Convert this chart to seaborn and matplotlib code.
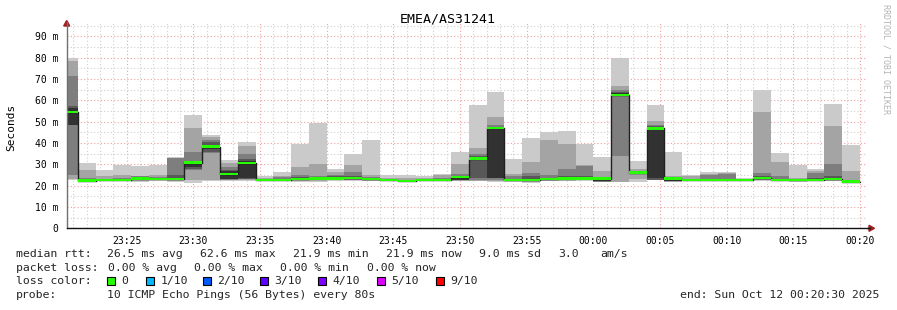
import numpy as np
import pandas as pd
import matplotlib
matplotlib.use("Agg")
import matplotlib.pyplot as plt
from matplotlib.patches import Polygon, Rectangle
from matplotlib.lines import Line2D
from matplotlib.ticker import FixedLocator, MultipleLocator
import seaborn as sns

# ---------------- data ----------------
title = "EMEA/AS31241"
y_label = "Seconds"
watermark = "RRDTOOL / TOBI OETIKER"
axis_start = "2025-10-11 23:20:30"
axis_end = "2025-10-12 00:20:30"
last_bin_end = "2025-10-12 00:20:00"
step_seconds = 80

x_tick_labels = ["23:25", "23:30", "23:35", "23:40", "23:45", "23:50",
                 "23:55", "00:00", "00:05", "00:10", "00:15", "00:20"]
y_tick_values = [0, 10, 20, 30, 40, 50, 60, 70, 80, 90]
y_tick_labels = ["0", "10 m", "20 m", "30 m", "40 m", "50 m", "60 m", "70 m", "80 m", "90 m"]

# median rtt per 80 s bin (ms)
median_ms = [54.6, 22.4, 22.5, 22.8, 23.3, 23.0, 23.1, 30.8, 38.3, 25.6,
             30.6, 22.6, 22.7, 23.1, 23.4, 23.4, 23.6, 23.1, 22.6, 22.1,
             22.5, 22.8, 24.0, 32.7, 47.0, 22.7, 22.8, 23.0, 23.4, 23.4,
             23.3, 62.6, 26.1, 46.8, 23.3, 22.6, 22.7, 22.7, 22.5, 23.5,
             22.8, 22.6, 22.8, 23.0, 21.9]

# sorted ping rtts per bin (ms), rank 1 (fastest) .. rank 10 (slowest)
ping_01 = [22.5, 21.7, 22.0, 22.0, 21.5, 22.3, 21.8, 21.3, 22.0, 22.3,
           22.0, 22.1, 22.0, 21.7, 21.9, 22.2, 22.1, 22.1, 22.0, 21.6,
           22.0, 22.2, 22.2, 22.0, 21.8, 21.6, 21.2, 22.1, 22.0, 22.3,
           21.7, 21.5, 21.6, 22.5, 21.7, 22.0, 22.0, 22.2, 22.1, 22.2,
           22.0, 21.6, 22.0, 22.0, 21.6]
ping_02 = [23.1, 22.0, 22.2, 22.3, 22.3, 22.5, 22.4, 22.6, 22.8, 22.6,
           22.5, 22.2, 22.2, 22.3, 22.3, 22.5, 22.5, 22.4, 22.2, 21.8,
           22.2, 22.4, 22.4, 22.3, 22.2, 22.1, 21.8, 22.4, 22.4, 22.5,
           21.8, 21.6, 23.1, 22.6, 21.9, 22.2, 22.2, 22.3, 22.2, 22.5,
           22.3, 22.0, 22.3, 22.4, 21.7]
ping_03 = [25.2, 22.2, 22.3, 22.5, 22.8, 22.7, 22.8, 27.5, 35.3, 22.8,
           23.0, 22.3, 22.4, 22.6, 22.7, 22.8, 22.8, 22.6, 22.3, 21.9,
           22.3, 22.5, 22.6, 22.8, 22.6, 22.4, 22.2, 22.7, 22.8, 22.7,
           21.9, 34.0, 25.8, 22.7, 22.0, 22.4, 22.4, 22.4, 22.3, 22.8,
           22.5, 22.2, 22.5, 22.6, 21.8]
ping_04 = [48.3, 22.4, 22.4, 22.7, 23.0, 22.9, 23.0, 28.0, 36.0, 23.0,
           23.2, 22.4, 22.5, 22.9, 23.0, 23.0, 23.1, 22.8, 22.4, 22.0,
           22.4, 22.7, 22.7, 23.5, 23.4, 22.6, 22.5, 22.9, 23.1, 22.9,
           22.0, 61.9, 25.9, 22.8, 22.1, 22.5, 22.5, 22.5, 22.4, 23.0,
           22.6, 22.4, 22.6, 22.8, 21.9]
ping_05 = [48.6, 22.6, 22.5, 22.8, 23.2, 23.0, 23.2, 28.8, 37.0, 23.1,
           23.4, 22.5, 22.6, 23.0, 23.2, 23.2, 23.4, 23.0, 22.5, 22.1,
           22.5, 22.8, 22.8, 31.8, 23.6, 22.7, 22.7, 23.0, 23.3, 23.0,
           22.1, 62.3, 26.0, 23.6, 22.2, 22.6, 22.6, 22.6, 22.5, 23.3,
           22.7, 22.5, 22.7, 22.9, 22.0]
ping_06 = [56.5, 22.8, 22.7, 23.0, 23.5, 23.2, 23.8, 31.0, 39.0, 27.0,
           31.5, 22.7, 22.8, 23.3, 23.6, 23.6, 24.0, 23.3, 22.7, 22.3,
           22.6, 22.9, 24.3, 33.0, 46.5, 22.9, 23.0, 23.2, 23.7, 23.8,
           23.5, 63.3, 26.1, 46.5, 23.4, 22.7, 22.8, 22.8, 22.6, 23.7,
           22.9, 22.7, 22.9, 23.1, 22.1]
ping_07 = [57.2, 23.2, 22.9, 23.2, 23.8, 23.5, 25.0, 31.5, 40.3, 27.5,
           32.5, 22.9, 23.1, 24.1, 24.0, 24.4, 24.7, 23.6, 22.9, 22.5,
           22.8, 23.2, 24.7, 34.0, 47.5, 23.3, 24.4, 23.6, 24.7, 24.4,
           23.7, 63.8, 26.3, 48.0, 23.8, 22.9, 23.1, 23.3, 22.7, 24.4,
           23.1, 22.9, 23.6, 24.4, 22.3]
ping_08 = [71.3, 23.6, 23.2, 23.4, 24.4, 24.0, 33.0, 36.0, 41.5, 28.7,
           35.0, 23.2, 23.9, 25.2, 24.4, 25.0, 26.3, 23.9, 23.2, 22.8,
           23.0, 23.6, 25.6, 35.0, 48.6, 24.4, 26.0, 25.2, 28.0, 29.0,
           23.9, 64.7, 26.7, 48.6, 24.1, 23.1, 25.0, 25.5, 22.9, 25.9,
           24.4, 23.2, 26.0, 30.2, 22.8]
ping_09 = [78.3, 27.5, 24.4, 25.2, 24.7, 25.2, 33.1, 46.8, 42.8, 30.6,
           38.7, 23.8, 24.4, 28.6, 30.3, 26.3, 29.5, 25.2, 23.8, 23.5,
           23.6, 25.0, 30.2, 37.8, 52.0, 25.6, 31.3, 41.3, 39.4, 29.8,
           26.7, 66.6, 28.0, 50.2, 24.4, 24.4, 25.6, 25.7, 23.1, 54.7,
           31.3, 23.6, 27.0, 48.1, 26.7]
ping_10 = [79.7, 30.6, 27.5, 29.5, 29.0, 29.8, 33.5, 53.0, 43.8, 32.0,
           40.5, 24.4, 26.3, 39.7, 49.2, 28.0, 35.0, 41.3, 25.2, 25.2,
           24.4, 25.5, 36.0, 57.7, 63.7, 32.7, 42.5, 45.0, 45.8, 39.7,
           33.3, 80.0, 31.7, 58.0, 36.0, 25.2, 26.3, 26.3, 23.4, 64.7,
           35.2, 29.5, 28.0, 58.4, 39.2]

stats_rtt = ["median rtt:", "26.5 ms avg", "62.6 ms max", "21.9 ms min",
             "21.9 ms now", "9.0 ms sd", "3.0", "am/s"]
stats_loss = ["packet loss:", "0.00 % avg", "0.00 % max", "0.00 % min", "0.00 % now"]
loss_labels = ["0", "1/10", "2/10", "3/10", "4/10", "5/10", "9/10"]
loss_colors = ["#26ff00", "#00b8ff", "#0059ff", "#5e00ff", "#7e00ff", "#dd00ff", "#ff0000"]
probe_text = ["probe:", "10 ICMP Echo Pings (56 Bytes) every 80s"]
end_text = "end: Sun Oct 12 00:20:30 2025"

# ---------------- figure ----------------
sns.set_theme(style="white")
plt.rcParams['font.family'] = ['DejaVu Sans Mono', 'DejaVu Sans']

W, H = 897, 310
fig = plt.figure(figsize=(W / 100, H / 100), dpi=100, facecolor="white")


def fx(px):
    return px / W


def fy(py):
    return 1 - py / H


ax_l, ax_r, ax_t, ax_b = 66.7, 866.7, 22.3, 228.3
ax = fig.add_axes([fx(ax_l), fy(ax_b), (ax_r - ax_l) / W, (ax_b - ax_t) / H])
ax.set_facecolor("white")

t0 = pd.Timestamp(axis_start)
t1 = pd.Timestamp(axis_end)
span_min = (t1 - t0).total_seconds() / 60
bin_ends = pd.date_range(end=pd.Timestamp(last_bin_end), periods=len(median_ms),
                         freq=f"{step_seconds}s")
ends_min = np.asarray((bin_ends - t0).total_seconds()) / 60
edges = np.concatenate([[ends_min[0] - step_seconds / 60], ends_min])


def stepv(a):
    a = np.asarray(a, dtype=float)
    return np.append(a, a[-1])


pings = [ping_01, ping_02, ping_03, ping_04, ping_05,
         ping_06, ping_07, ping_08, ping_09, ping_10]
smoke_colors = ["#cacaca", "#a4a4a4", "#7e7e7e", "#585858", "#323232"]
for i in range(5):
    ax.fill_between(edges, stepv(pings[i]), stepv(pings[9 - i]), step="post",
                    color=smoke_colors[i], lw=0, zorder=1)

df = pd.DataFrame({"t": edges, "median": stepv(median_ms)})
sns.lineplot(data=df, x="t", y="median", drawstyle="steps-post", color="#202020",
             lw=1.0, ax=ax, zorder=2, estimator=None, sort=False)
med = stepv(median_ms)
ax.fill_between(edges, med - 0.55, med + 0.55, step="post", color=loss_colors[0],
                lw=0, zorder=3)

ax.set_xlim(0, span_min)
ax.set_ylim(0, 96.6)

# ticks / grid
xt = []
for lab in x_tick_labels:
    ts = pd.Timestamp(t0.strftime("%Y-%m-%d") + " " + lab)
    if ts < t0:
        ts += pd.Timedelta(days=1)
    xt.append((ts - t0).total_seconds() / 60)
ax.xaxis.set_major_locator(FixedLocator(xt))
ax.xaxis.set_minor_locator(FixedLocator(np.arange(xt[0] - 4, span_min, 1.0)))
ax.set_xticklabels(x_tick_labels)
ax.yaxis.set_major_locator(FixedLocator(y_tick_values))
ax.yaxis.set_minor_locator(MultipleLocator(5))
ax.set_yticklabels(y_tick_labels)

ax.set_axisbelow(True)
ax.grid(which="minor", color="#cfcfcf", lw=0.8, ls=(0, (1, 2)))
ax.grid(which="major", color="#f0a0a0", lw=0.8, ls=(0, (1, 2)))
ax.tick_params(axis="both", which="major", direction="out", length=2.5, width=0.8,
               color="#777777", labelsize=7, labelcolor="black")
ax.tick_params(axis="x", which="major", pad=3.0)
ax.tick_params(axis="y", which="major", pad=3.5)
ax.tick_params(axis="both", which="minor", direction="out", length=1.5, width=0.6,
               color="#999999")
ax.set_xlabel("")
ax.set_ylabel("")

for s in ["top", "right"]:
    ax.spines[s].set_visible(False)
ax.spines["left"].set_color("#707070")
ax.spines["left"].set_linewidth(1.0)
ax.spines["bottom"].set_color("#111111")
ax.spines["bottom"].set_linewidth(1.0)

# axis extensions and arrows (figure pixel coords)
arrow_col = "#a01e1e"
fig.add_artist(Line2D([fx(ax_l), fx(ax_l)], [fy(ax_t), fy(25.5)], color="#707070",
                      lw=1.0, transform=fig.transFigure))
fig.add_artist(Line2D([fx(ax_r), fx(869.5)], [fy(ax_b), fy(ax_b)], color="#111111",
                      lw=1.0, transform=fig.transFigure))
fig.add_artist(Polygon([[fx(ax_l), fy(20.5)], [fx(ax_l - 3), fy(26)], [fx(ax_l + 3), fy(26)]],
                       closed=True, color=arrow_col, transform=fig.transFigure))
fig.add_artist(Polygon([[fx(874.5), fy(ax_b)], [fx(869), fy(ax_b - 3)], [fx(869), fy(ax_b + 3)]],
                       closed=True, color=arrow_col, transform=fig.transFigure))

# titles
fig.text(fx(448), fy(19), title, ha="center", va="center", fontsize=9.5, color="black")
fig.text(fx(11), fy(127), y_label, ha="center", va="center", rotation=90, fontsize=8,
         color="black")
fig.text(fx(886), fy(4), watermark, ha="center", va="top", rotation=-90, fontsize=6,
         color="#b4b4b4")

# legend / stats
fs = 8.25
row_y = [254, 268, 281, 294.5]
rtt_x = [16, 107, 200, 293, 386, 479, 558, 600]
for x, s in zip(rtt_x, stats_rtt):
    fig.text(fx(x), fy(row_y[0]), s, ha="left", va="center", fontsize=fs)
loss_x = [16, 108, 194, 280, 367]
for x, s in zip(loss_x, stats_loss):
    fig.text(fx(x), fy(row_y[1]), s, ha="left", va="center", fontsize=fs)
fig.text(fx(16), fy(row_y[2]), "loss color:", ha="left", va="center", fontsize=fs)
box_x = [107, 146, 203, 260, 318, 377, 436]
for x, lab, c in zip(box_x, loss_labels, loss_colors):
    fig.add_artist(Rectangle((fx(x), fy(row_y[2] + 4)), 8 / W, 8 / H, facecolor=c,
                             edgecolor="black", lw=0.8, transform=fig.transFigure))
    fig.text(fx(x + 14.5), fy(row_y[2]), lab, ha="left", va="center", fontsize=fs)
fig.text(fx(16), fy(row_y[3]), probe_text[0], ha="left", va="center", fontsize=fs)
fig.text(fx(107), fy(row_y[3]), probe_text[1], ha="left", va="center", fontsize=fs)
fig.text(fx(879), fy(row_y[3]), end_text, ha="right", va="center", fontsize=fs)

fig.savefig("out.png", dpi=100, facecolor="white")
